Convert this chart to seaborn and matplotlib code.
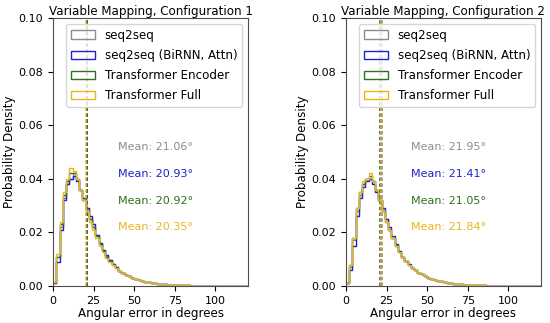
import numpy as np
import pandas as pd
import matplotlib
matplotlib.use("Agg")
import matplotlib.pyplot as plt
from matplotlib.patches import Patch
import seaborn as sns

# histogram bins, 2 degrees wide
bin_edges = list(range(0, 122, 2))
bin_centers = [e + 1 for e in bin_edges[:-1]]

models = ["seq2seq", "seq2seq (BiRNN, Attn)", "Transformer Encoder", "Transformer Full"]
colors = ["#8c8c8c", "#1f1fd0", "#2f6f1f", "#e8b420"]

# config 1: density per bin, first 20 bins (0-40 deg)
c1_seq2seq = [0.0015, 0.011, 0.022, 0.033, 0.038, 0.040, 0.042, 0.040, 0.036, 0.032,
              0.029, 0.025, 0.022, 0.019, 0.016, 0.0133, 0.0113, 0.0096, 0.0082, 0.007]
c1_birnn = [0.001, 0.009, 0.021, 0.032, 0.038, 0.040, 0.041, 0.039, 0.036, 0.033,
            0.029, 0.026, 0.023, 0.019, 0.016, 0.0135, 0.0115, 0.0098, 0.0083, 0.0071]
c1_encoder = [0.0012, 0.011, 0.023, 0.034, 0.039, 0.042, 0.042, 0.040, 0.036, 0.032,
              0.028, 0.025, 0.022, 0.0185, 0.0155, 0.013, 0.011, 0.0094, 0.008, 0.0068]
c1_full = [0.0015, 0.012, 0.024, 0.035, 0.040, 0.044, 0.043, 0.040, 0.036, 0.032,
           0.028, 0.024, 0.021, 0.018, 0.015, 0.0125, 0.0105, 0.009, 0.0077, 0.0066]
# shared tail (40-120 deg), the four curves overlap there
c1_tail = [0.0057, 0.0049, 0.0042, 0.0036, 0.0031, 0.0026, 0.0022, 0.0019, 0.0016, 0.0014,
           0.0012, 0.001, 0.0009, 0.00075, 0.00065, 0.00055, 0.00047, 0.0004, 0.00034, 0.0003,
           0.00025, 0.00021, 0.00018, 0.00015, 0.00013, 0.00011, 0.0001, 0.00008, 0.00007, 0.00006,
           0.00005, 0.00004, 0.00004, 0.00003, 0.00003, 0.00002, 0.00002, 0.00002, 0.00001, 0.00001]
c1_means = [21.06, 20.93, 20.92, 20.35]

# config 2
c2_seq2seq = [0.001, 0.007, 0.017, 0.028, 0.034, 0.038, 0.040, 0.040, 0.039, 0.036,
              0.032, 0.028, 0.025, 0.021, 0.018, 0.0152, 0.0129, 0.011, 0.0094, 0.008]
c2_birnn = [0.001, 0.006, 0.015, 0.026, 0.033, 0.037, 0.039, 0.040, 0.038, 0.035,
            0.032, 0.029, 0.025, 0.022, 0.0185, 0.0155, 0.013, 0.011, 0.0095, 0.0081]
c2_encoder = [0.001, 0.008, 0.018, 0.029, 0.035, 0.038, 0.040, 0.041, 0.039, 0.036,
              0.032, 0.028, 0.024, 0.021, 0.018, 0.015, 0.0128, 0.011, 0.0094, 0.008]
c2_full = [0.001, 0.008, 0.018, 0.029, 0.035, 0.039, 0.040, 0.042, 0.039, 0.036,
           0.032, 0.028, 0.024, 0.021, 0.018, 0.015, 0.0128, 0.011, 0.0094, 0.008]
c2_tail = [0.0068, 0.0058, 0.005, 0.0043, 0.0037, 0.0031, 0.0027, 0.0023, 0.002, 0.0017,
           0.0014, 0.0012, 0.001, 0.0009, 0.00075, 0.00065, 0.00055, 0.00047, 0.0004, 0.00034,
           0.00029, 0.00025, 0.00021, 0.00018, 0.00015, 0.00013, 0.00011, 0.0001, 0.00008, 0.00007,
           0.00006, 0.00005, 0.00004, 0.00004, 0.00003, 0.00003, 0.00002, 0.00002, 0.00002, 0.00001]
c2_means = [21.95, 21.41, 21.05, 21.84]

configs = [
    ("Variable Mapping, Configuration 1", [c1_seq2seq, c1_birnn, c1_encoder, c1_full], c1_tail, c1_means),
    ("Variable Mapping, Configuration 2", [c2_seq2seq, c2_birnn, c2_encoder, c2_full], c2_tail, c2_means),
]

plt.rcParams["font.size"] = 8
plt.rcParams["axes.edgecolor"] = "0.3"

fig = plt.figure(figsize=(5.5, 3.23), dpi=100)
positions = [[0.0964, 0.1146, 0.3545, 0.8297], [0.629, 0.1146, 0.3545, 0.8297]]

for pos, (title, heads, tail, means) in zip(positions, configs):
    ax = fig.add_axes(pos)
    for head, color, m in zip(heads, colors, means):
        df = pd.DataFrame({"angle": bin_centers, "density": head + tail})
        sns.histplot(data=df, x="angle", weights="density", bins=bin_edges, element="step",
                     fill=False, color=color, linewidth=1.0, stat="count", ax=ax)
        ax.axvline(m, color=color, linestyle=(0, (2, 1.5)), linewidth=1.2)
    for i, (m, color) in enumerate(zip(means, colors)):
        ax.text(40, 0.05 - 0.01 * i, f"Mean: {m:.2f}°", color=color,
                ha="left", va="bottom", fontsize=8)
    ax.set_xlim(0, 120)
    ax.set_ylim(0, 0.1)
    ax.set_xticks([0, 25, 50, 75, 100])
    ax.set_yticks([0, 0.02, 0.04, 0.06, 0.08, 0.10])
    ax.set_yticklabels(["0.00", "0.02", "0.04", "0.06", "0.08", "0.10"])
    ax.set_title(title, fontsize=8.6, pad=2)
    ax.set_xlabel("Angular error in degrees", fontsize=8.6, labelpad=1)
    ax.set_ylabel("Probability Density", fontsize=8.6, labelpad=2)
    handles = [Patch(facecolor="none", edgecolor=c, label=l) for c, l in zip(colors, models)]
    ax.legend(handles=handles, loc="upper right", fontsize=8.6, labelspacing=0.6)

fig.savefig("out.png", dpi=100)
